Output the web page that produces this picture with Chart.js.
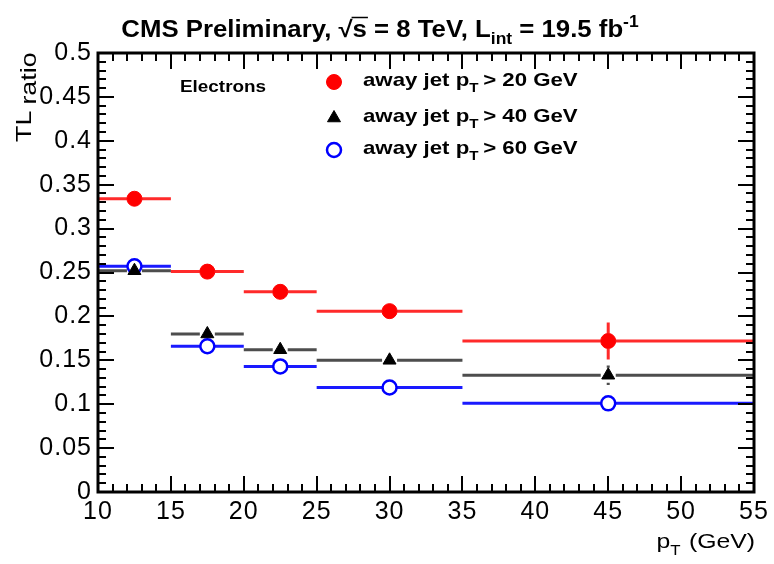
<!DOCTYPE html>
<html>
<head>
<meta charset="utf-8">
<script src="https://cdn.jsdelivr.net/npm/chart.js@4/dist/chart.umd.min.js"></script>
<style>
  html, body { margin: 0; padding: 0; background: #fff; }
  #wrap { width: 774px; height: 564px; }
</style>
</head>
<body>
<div id="wrap"><canvas id="c" width="774" height="564"></canvas></div>
<script>
// pT bins (GeV)
const binLow    = [10, 15, 20, 25, 35];
const binHigh   = [15, 20, 25, 35, 55];
const binCenter = [12.5, 17.5, 22.5, 30, 45];

// tight-to-loose ratio for each away-jet pT threshold
const ratio20 = [0.334, 0.251, 0.228, 0.206, 0.172];
const ratio40 = [0.252, 0.180, 0.162, 0.150, 0.133];
const ratio60 = [0.257, 0.166, 0.143, 0.119, 0.101];

// statistical uncertainties
const err20 = [0.004, 0.004, 0.004, 0.005, 0.021];
const err40 = [0.004, 0.004, 0.004, 0.005, 0.011];
const err60 = [0.007, 0.004, 0.004, 0.005, 0.008];

const xTicks = [10, 15, 20, 25, 30, 35, 40, 45, 50, 55];
const yTicks = [0, 0.05, 0.1, 0.15, 0.2, 0.25, 0.3, 0.35, 0.4, 0.45, 0.5];

const FONT = '"Liberation Sans", Arial, Helvetica, sans-serif';

const series = [
  { label: '20', y: ratio20, err: err20, color: '#ff0000', line: '#ff2a2a', style: 'circle',   fill: true,  r: 7.5 },
  { label: '40', y: ratio40, err: err40, color: '#000000', line: '#4d4d4d', style: 'triangle', fill: true,  r: 7.5 },
  { label: '60', y: ratio60, err: err60, color: '#0000ff', line: '#1a1aff', style: 'circle',   fill: false, r: 7 }
];

// draw a sequence of text runs (with optional sub/superscripts), widened by sx
function drawRuns(ctx, runs, x, y, size, weight, align, sx) {
  sx = sx || 1;
  ctx.letterSpacing = '0px';
  const sizeOf = r => (r.sub || r.sup ? size * 0.68 : size);
  let total = 0;
  runs.forEach(r => {
    ctx.font = `${weight} ${sizeOf(r)}px ${FONT}`;
    total += (ctx.measureText(r.t).width + (r.gap || 0)) * sx;
  });
  let cx = x;
  if (align === 'center') cx = x - total / 2;
  if (align === 'right') cx = x - total;
  const positions = [];
  runs.forEach(r => {
    ctx.font = `${weight} ${sizeOf(r)}px ${FONT}`;
    let dy = r.dy || 0;
    if (r.sub) dy += size * 0.32;
    if (r.sup) dy -= size * 0.42;
    ctx.textBaseline = 'alphabetic';
    ctx.textAlign = 'left';
    ctx.save();
    ctx.translate(cx, y + dy);
    ctx.scale(sx, 1);
    ctx.fillText(r.t, 0, 0);
    ctx.restore();
    const w = ctx.measureText(r.t).width * sx;
    positions.push({ x: cx, w });
    cx += w + (r.gap || 0) * sx;
  });
  return positions;
}

const rootFrame = {
  id: 'rootFrame',
  beforeDraw(chart) {
    chart.ctx.letterSpacing = '1px';
  },
  beforeDatasetsDraw(chart) {
    const { ctx, scales: { x, y } } = chart;
    ctx.save();
    ctx.letterSpacing = '0px';
    // horizontal bin widths and vertical uncertainties
    series.forEach(s => {
      ctx.strokeStyle = s.line;
      ctx.lineWidth = 3;
      ctx.lineCap = 'butt';
      binCenter.forEach((c, i) => {
        const px = x.getPixelForValue(c);
        const py = y.getPixelForValue(s.y[i]);
        const gap = s.r;
        ctx.beginPath();
        ctx.moveTo(x.getPixelForValue(binLow[i]), py);
        ctx.lineTo(px - gap, py);
        ctx.moveTo(px + gap, py);
        ctx.lineTo(x.getPixelForValue(binHigh[i]), py);
        const yt = y.getPixelForValue(s.y[i] + s.err[i]);
        const yb = y.getPixelForValue(s.y[i] - s.err[i]);
        if (py - yt > gap) { ctx.moveTo(px, py - gap); ctx.lineTo(px, yt); }
        if (yb - py > gap) { ctx.moveTo(px, py + gap); ctx.lineTo(px, yb); }
        ctx.stroke();
      });
    });
    ctx.restore();
  },
  afterDraw(chart) {
    const { ctx, chartArea: a, scales: { x, y } } = chart;
    ctx.save();
    ctx.letterSpacing = '0px';
    ctx.fillStyle = '#000';
    ctx.strokeStyle = '#000';
    // ticks on all four sides, pointing inwards
    ctx.lineWidth = 2;
    ctx.beginPath();
    for (let v = 10; v <= 55.001; v += 1) {
      const px = Math.round(x.getPixelForValue(v));
      const major = Math.abs(v % 5) < 1e-6;
      const len = major ? 16 : 8;
      ctx.moveTo(px, a.bottom); ctx.lineTo(px, a.bottom - len);
      ctx.moveTo(px, a.top); ctx.lineTo(px, a.top + len);
    }
    for (let k = 0; k <= 50; k++) {
      const v = k / 100;
      const py = Math.round(y.getPixelForValue(v));
      const major = k % 5 === 0;
      const len = major ? 16 : 8;
      ctx.moveTo(a.left, py); ctx.lineTo(a.left + len, py);
      ctx.moveTo(a.right, py); ctx.lineTo(a.right - len, py);
    }
    ctx.stroke();
    // frame
    ctx.lineWidth = 3;
    ctx.strokeRect(a.left, a.top, a.right - a.left, a.bottom - a.top);

    // title
    const pos = drawRuns(ctx, [
      { t: 'CMS Preliminary, ' },
      { t: '\u221As' },
      { t: ' = 8 TeV, L' },
      { t: 'int', sub: true },
      { t: ' = 19.5 fb' },
      { t: '-1', sup: true }
    ], 380, 37, 23, 'bold', 'center', 1.12);
    // overline of the square root
    ctx.font = `bold 23px ${FONT}`;
    const rootW = ctx.measureText('\u221A').width * 1.12;
    ctx.lineWidth = 1.5;
    ctx.beginPath();
    ctx.moveTo(pos[1].x + rootW - 1, 17.5);
    ctx.lineTo(pos[1].x + pos[1].w + 1, 17.5);
    ctx.stroke();

    // axis titles
    drawRuns(ctx, [{ t: 'p' }, { t: 'T', sub: true, gap: 7 }, { t: '(GeV)' }], a.right + 1, 548, 21, 'normal', 'right', 1.18);
    ctx.save();
    ctx.translate(31, 142);
    ctx.rotate(-Math.PI / 2);
    drawRuns(ctx, [{ t: 'TL', gap: 5 }, { t: 'ratio', dy: 5 }], 0, 0, 22, 'normal', 'left', 1.22);
    ctx.restore();

    // text label
    drawRuns(ctx, [{ t: 'Electrons' }], 180, 92, 16, 'bold', 'left', 1.18);

    // legend
    const legY = [82, 118, 150];
    series.forEach((s, i) => {
      ctx.save();
      ctx.fillStyle = s.fill ? s.color : 'rgba(0,0,0,0)';
      ctx.strokeStyle = s.color;
      ctx.lineWidth = s.fill ? 1 : 2.5;
      Chart.helpers.drawPoint(ctx, { pointStyle: s.style, radius: s.r, rotation: 0, borderWidth: ctx.lineWidth }, 334, legY[i]);
      ctx.restore();
      drawRuns(ctx, [
        { t: 'away jet p' },
        { t: 'T', sub: true, gap: 4 },
        { t: '> ' + s.label + ' GeV' }
      ], 363, legY[i] + 4, 19, 'bold', 'left', 1.17);
    });
    ctx.restore();
  }
};

const datasets = series.map(s => ({
  label: 'away jet pT > ' + s.label + ' GeV',
  data: binCenter.map((c, i) => ({ x: c, y: s.y[i] })),
  pointStyle: s.style,
  pointRadius: s.r,
  pointHoverRadius: s.r,
  pointBackgroundColor: s.fill ? s.color : 'rgba(0,0,0,0)',
  pointBorderColor: s.color,
  pointBorderWidth: s.fill ? 1 : 2.5,
  showLine: false
}));

new Chart(document.getElementById('c'), {
  type: 'scatter',
  data: { datasets },
  options: {
    responsive: false,
    animation: false,
    layout: { padding: { top: 53, right: 20, left: 0, bottom: 0 } },
    plugins: { legend: { display: false }, tooltip: { enabled: false } },
    scales: {
      x: {
        type: 'linear', min: 10, max: 55,
        afterBuildTicks: s => { s.ticks = xTicks.map(v => ({ value: v })); },
        afterFit: s => { s.height = 72; },
        grid: { display: false, drawTicks: false },
        border: { display: false },
        ticks: { color: '#000', font: { family: FONT, size: 25 }, padding: 5, maxRotation: 0,
                 callback: v => String(v) }
      },
      y: {
        type: 'linear', min: 0, max: 0.5,
        afterBuildTicks: s => { s.ticks = yTicks.map(v => ({ value: v })); },
        afterFit: s => { s.width = 98; },
        grid: { display: false, drawTicks: false },
        border: { display: false },
        ticks: { color: '#000', font: { family: FONT, size: 25 }, padding: 6,
                 callback: v => String(Math.round(v * 100) / 100) }
      }
    }
  },
  plugins: [rootFrame]
});
</script>
</body>
</html>
